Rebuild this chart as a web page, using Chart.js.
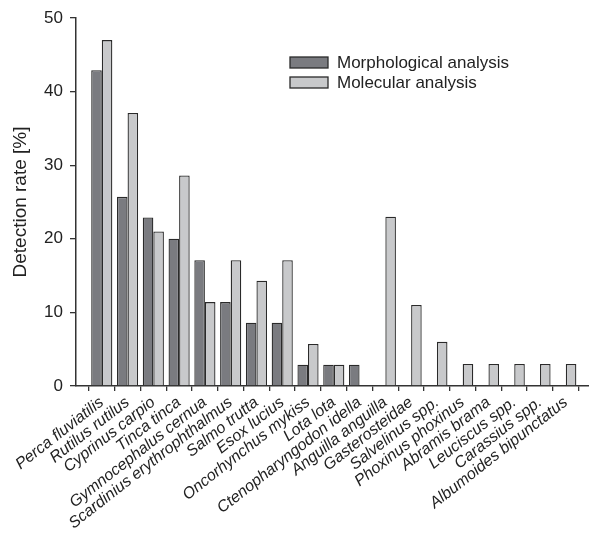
<!DOCTYPE html>
<html>
<head>
<meta charset="utf-8">
<script src="https://cdn.jsdelivr.net/npm/chart.js@4.4.1/dist/chart.umd.min.js"></script>
<style>
  html, body { margin: 0; padding: 0; background: #fff; }
  #wrap { width: 589px; height: 536px; }
</style>
</head>
<body>
<div id="wrap"><canvas id="myChart" width="589" height="536"></canvas></div>
<script>
const species = [
    'Perca fluviatilis', 'Rutilus rutilus', 'Cyprinus carpio', 'Tinca tinca',
    'Gymnocephalus cernua', 'Scardinius erythrophthalmus', 'Salmo trutta', 'Esox lucius',
    'Oncorhynchus mykiss', 'Lota lota', 'Ctenopharyngodon idella', 'Anguilla anguilla',
    'Gasterosteidae', 'Salvelinus spp.', 'Phoxinus phoxinus', 'Abramis brama',
    'Leuciscus spp.', 'Carassius spp.', 'Albumoides bipunctatus'
];
const morphological = [42.9, 25.7, 22.9, 20.0, 17.1, 11.4, 8.6, 8.6, 2.9, 2.9, 2.9, 0, 0, 0, 0, 0, 0, 0, 0];
const molecular = [47.0, 37.1, 21.0, 28.6, 11.4, 17.1, 14.3, 17.1, 5.7, 2.9, 0, 23.0, 11.0, 6.0, 3.0, 3.0, 3.0, 3.0, 3.0];
const yTicks = [0, 10, 20, 30, 40, 50];

const axisColor = '#333';
const textColor = '#222';
const font = 'Liberation Sans, Arial, sans-serif';

// legend drawn inside the plot, stacked vertically
const insideLegend = {
    id: 'insideLegend',
    afterDraw(chart) {
        const ctx = chart.ctx;
        const area = chart.chartArea;
        const x = area.left + 214;
        let y = area.top + 39;
        ctx.save();
        ctx.font = '17px ' + font;
        ctx.textBaseline = 'middle';
        chart.data.datasets.forEach(ds => {
            ctx.fillStyle = ds.backgroundColor;
            ctx.fillRect(x, y, 38, 11);
            ctx.strokeStyle = ds.borderColor;
            ctx.lineWidth = 1.3;
            ctx.strokeRect(x, y, 38, 11);
            ctx.fillStyle = textColor;
            ctx.fillText(ds.label, x + 47, y + 6);
            y += 20;
        });
        ctx.restore();
    }
};

function buildGraphic() {
    const ctx = document.getElementById('myChart').getContext('2d');

    const data = {
        datasets: [{
            label: 'Morphological analysis',
            data: morphological.map((v, i) => ({ x: i, y: v })),
            backgroundColor: '#7a7b80',
            borderColor: '#2a2a2a',
            borderWidth: 1.3
        }, {
            label: 'Molecular analysis',
            data: molecular.map((v, i) => ({ x: i, y: v })),
            backgroundColor: '#c8c9cb',
            borderColor: '#2a2a2a',
            borderWidth: 1.3
        }]
    };

    const config = {
        type: 'bar',
        data: data,
        options: {
            responsive: false,
            animation: false,
            devicePixelRatio: 1,
            categoryPercentage: 0.82,
            barPercentage: 1.0,
            layout: {
                padding: { top: 18, right: 0, bottom: 0, left: 0 }
            },
            plugins: {
                legend: { display: false },
                tooltip: { enabled: false }
            },
            scales: {
                x: {
                    type: 'linear',
                    min: -1,
                    max: 18.9,
                    offset: false,
                    afterBuildTicks: scale => {
                        scale.ticks = species.map((s, i) => ({ value: i }));
                    },
                    afterFit: scale => {
                        scale.height = 150;
                    },
                    ticks: {
                        autoSkip: false,
                        maxRotation: 38,
                        minRotation: 38,
                        padding: 2,
                        color: textColor,
                        font: { family: font, size: 16, style: 'italic' },
                        callback: value => species[value] || ''
                    },
                    grid: {
                        drawOnChartArea: false,
                        drawTicks: true,
                        tickLength: 5,
                        color: axisColor,
                        lineWidth: 1.3
                    },
                    border: { color: axisColor, width: 1.5 }
                },
                y: {
                    min: 0,
                    max: 50,
                    afterBuildTicks: scale => {
                        scale.ticks = yTicks.map(v => ({ value: v }));
                    },
                    afterFit: scale => {
                        scale.width = 76;
                    },
                    ticks: {
                        padding: 7,
                        color: textColor,
                        font: { family: font, size: 17 }
                    },
                    grid: {
                        drawOnChartArea: false,
                        drawTicks: true,
                        tickLength: 6,
                        color: axisColor,
                        lineWidth: 1.3
                    },
                    border: { color: axisColor, width: 1.5 },
                    title: {
                        display: true,
                        text: 'Detection rate [%]',
                        color: textColor,
                        font: { family: font, size: 19 },
                        padding: { top: 9, bottom: 0 }
                    }
                }
            }
        },
        plugins: [insideLegend]
    };

    const myChart = new Chart(ctx, config);
}

buildGraphic();
</script>
</body>
</html>
